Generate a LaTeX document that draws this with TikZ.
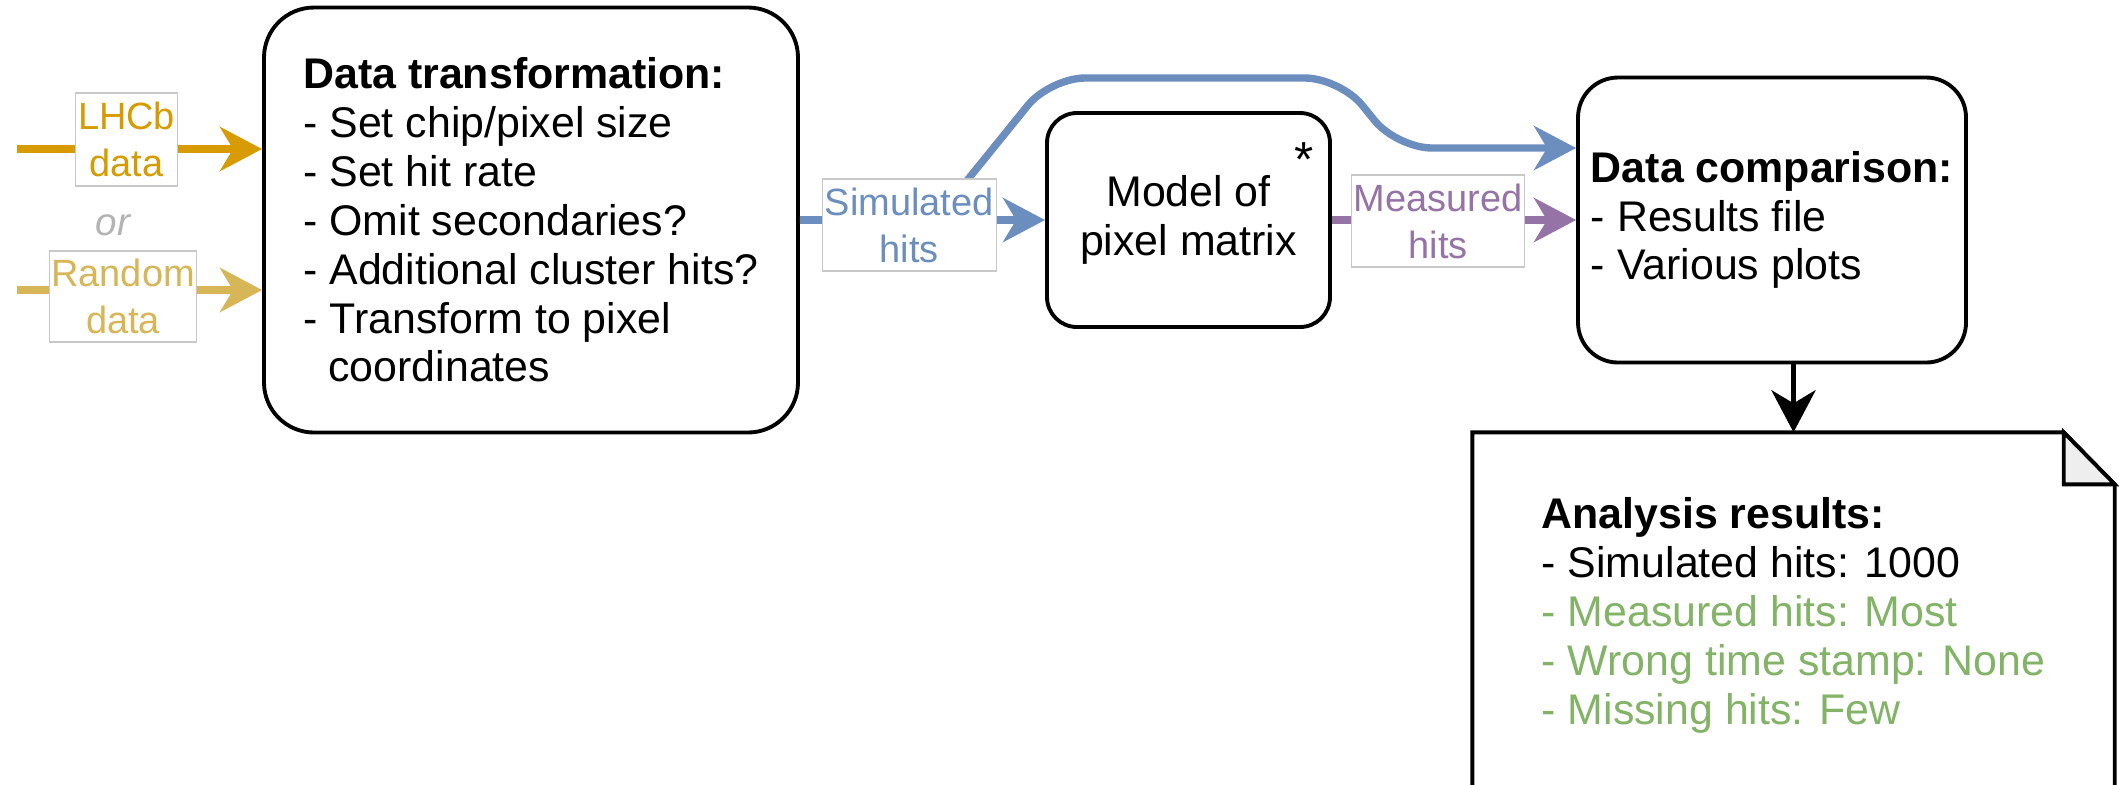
\documentclass[tikz,border=0pt]{standalone}
\usepackage{fontspec}
\setmainfont{Liberation Sans}
\usetikzlibrary{arrows.meta,positioning}
\definecolor{lhcbcol}{HTML}{D79B00}
\definecolor{randcol}{HTML}{D6B656}
\definecolor{simcol}{HTML}{6C8EBF}
\definecolor{meascol}{HTML}{9673A6}
\definecolor{goodcol}{HTML}{82B366}
\definecolor{orcol}{HTML}{B3B3B3}
\definecolor{tagline}{HTML}{C8C8C8}
\definecolor{foldcol}{HTML}{EEEEEE}

\begin{document}
\begin{tikzpicture}[
    every node/.style={font=\fontsize{12.2}{13.9}\selectfont},
    stage/.style={draw, line width=1.1pt, align=left, inner sep=0pt},
    tag/.style={draw=tagline, line width=0.3pt, fill=white, align=center, inner sep=0pt, minimum height=0.92cm, font=\fontsize{10.8}{13.4}\selectfont},
    flow/.style={-{Stealth[length=4.2mm, width=4.4mm, inset=1.3mm]}, line width=2.1pt}
]
\useasboundingbox (0,0) rectangle (21.19,-7.84);

\node[stage, rounded corners=0.5cm, minimum width=5.34cm, minimum height=4.25cm] (trans) at (5.31,-2.2) {\textbf{Data transformation:}\\- Set chip/pixel size\\- Set hit rate\\- Omit secondaries?\\- Additional cluster hits?\\- Transform to pixel\\\hspace*{0.25cm}coordinates};
\node[stage, rounded corners=0.3cm, minimum width=2.83cm, minimum height=2.14cm, align=center] (model) at (11.885,-2.2) {Model of\\pixel matrix};
\node[font=\fontsize{14}{16}\selectfont] (star) at ([xshift=-0.28cm, yshift=-0.48cm]model.north east) {*};
\node[stage, rounded corners=0.4cm, minimum width=3.88cm, minimum height=2.85cm] (comp) at (17.72,-2.2) {\textbf{Data comparison:}\\- Results file\\- Various plots};
\node[align=left, inner sep=0pt, minimum width=6.41cm, minimum height=3.65cm] (results) at (17.935,-6.155) {\textbf{Analysis results:}\\- Simulated hits: 1000\\\textcolor{goodcol}{- Measured hits: Most}\\\textcolor{goodcol}{- Wrong time stamp: None}\\\textcolor{goodcol}{- Missing hits: Few}};

% document outline with folded corner
\coordinate (foldA) at ([xshift=-0.51cm]results.north east);
\coordinate (foldB) at ([yshift=-0.52cm]results.north east);
\draw[line width=1.1pt] (results.south west) -- (results.north west) -- (foldA) -- (foldB) -- (results.south east);
\filldraw[fill=foldcol, line width=1.1pt] (foldA) -- (foldA |- foldB) -- (foldB) -- cycle;

% inputs
\coordinate (lhcbin) at (0.17,-1.49);
\coordinate (randin) at (0.17,-2.90);
\draw[flow, lhcbcol] (lhcbin) -- node[tag, text=lhcbcol, pos=0.447, yshift=0.095cm, minimum width=1.02cm, minimum height=0.93cm] {LHCb\\data} (trans.west |- lhcbin);
\draw[flow, randcol] (randin) -- node[tag, text=randcol, pos=0.433, yshift=-0.065cm, minimum width=1.47cm, minimum height=0.91cm] {Random\\data} (trans.west |- randin);
\node[text=orcol, font=\itshape\fontsize{11}{13}\selectfont] (alt) at (1.13,-2.25) {or};

% bypass to comparison
\coordinate (bendA) at (9.35,-2.2);
\coordinate (bendB) at (10.50,-0.78);
\coordinate (bendC) at (13.40,-0.78);
\coordinate (bendD) at (13.97,-1.48);
\draw[flow, simcol, rounded corners=0.35cm] (trans.east) -- (bendA) -- (bendB) -- (bendC) -- (bendD) -- (comp.west |- bendD);

\draw[flow, simcol] (trans.east) -- node[tag, text=simcol, pos=0.446, yshift=-0.05cm, minimum width=1.74cm] {Simulated\\hits} (model.west);
\draw[flow, meascol] (model.east) -- node[tag, text=meascol, pos=0.435, yshift=-0.01cm, minimum width=1.73cm] {Measured\\hits} (comp.west);
\draw[flow, black, line width=1.6pt] (results.north |- comp.south) -- (results.north);
\end{tikzpicture}
\end{document}
